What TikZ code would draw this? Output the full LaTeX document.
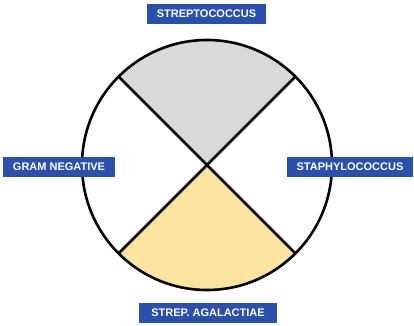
\documentclass[tikz,border=0pt]{standalone}
\usepackage{fontspec}
\setmainfont{Liberation Sans}
\definecolor{labelblue}{HTML}{2B4FAC}
\definecolor{sectorgray}{HTML}{D9D9D9}
\definecolor{sectoryellow}{HTML}{FBE4A0}
\begin{document}
\begin{tikzpicture}[x=1pt,y=-1pt,
  lbl/.style={fill=labelblue,text=white,font=\bfseries\fontsize{11}{13}\selectfont,inner sep=0pt,minimum height=20pt,anchor=center},
  rim/.style={line width=2.6pt,draw=black}]
\useasboundingbox (0,0) rectangle (414,325);
\coordinate (c) at (207,165);
\def\R{125}
% sectors
\fill[sectorgray] (c) -- ++(-135:\R) arc[start angle=-135,end angle=-45,radius=\R] -- cycle;
\fill[sectoryellow] (c) -- ++(135:\R) arc[start angle=135,end angle=45,radius=\R] -- cycle;
% spokes
\draw[rim] (c) -- ++(-135:\R);
\draw[rim] (c) -- ++(-45:\R);
\draw[rim] (c) -- ++(45:\R);
\draw[rim] (c) -- ++(135:\R);
\draw[rim] (c) circle[radius=\R];
% labels
\node[lbl,minimum width=119pt] (strep) at (206.5,14) {STREPTOCOCCUS};
\node[lbl,minimum width=112pt] (gram) at (59,167) {GRAM NEGATIVE};
\node[lbl,minimum width=126pt] (staph) at (350,167) {STAPHYLOCOCCUS};
\node[lbl,minimum width=138pt] (agal) at (208,313) {STREP. AGALACTIAE};
\end{tikzpicture}
\end{document}
